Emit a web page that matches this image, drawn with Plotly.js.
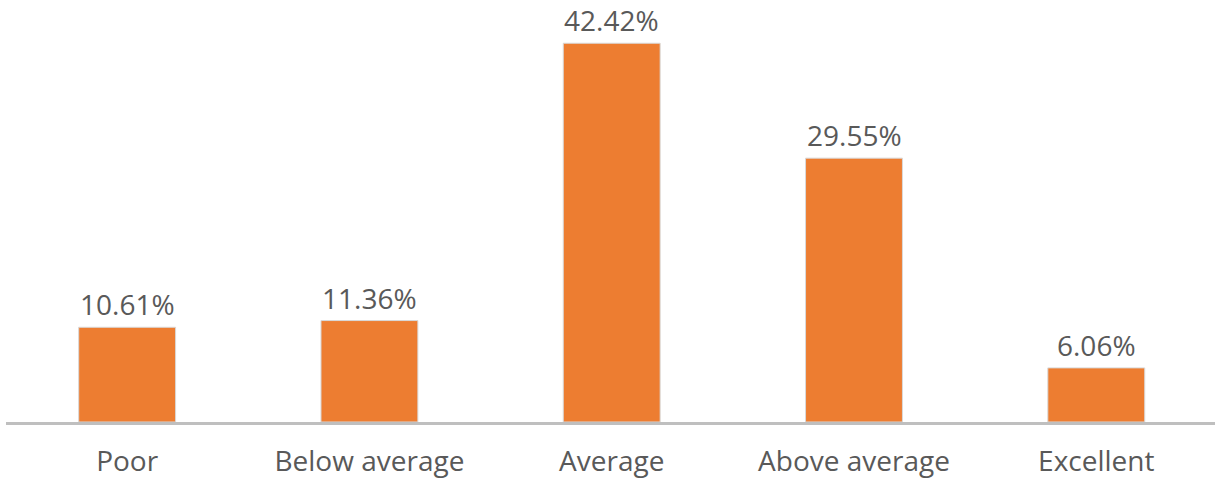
<!DOCTYPE html>
<html>
<head>
<meta charset="utf-8">
<script src="https://cdn.plot.ly/plotly-3.0.1.min.js"></script>
<style>html,body{margin:0;padding:0;background:#fff;}#chart{width:1215px;height:481px;}</style>
</head>
<body>
<div id="chart"></div>
<script>
const categories = ["Poor", "Below average", "Average", "Above average", "Excellent"];
const values = [10.61, 11.36, 42.42, 29.55, 6.06];
const valueLabels = ["10.61%", "11.36%", "42.42%", "29.55%", "6.06%"];

const FONT = "'Open Sans', 'Liberation Sans', sans-serif";
const TEXT_COLOR = "#595959";

const trace = {
  type: "bar",
  x: categories,
  y: values,
  width: 0.4,
  marker: {color: "#ED7D31", line: {color: "#d9d9d9", width: 1}},
  hoverinfo: "none"
};

const annotations = categories.map((c, i) => ({
  x: c, y: values[i], xref: "x", yref: "y",
  text: valueLabels[i], showarrow: false,
  yanchor: "bottom", yshift: 3, borderpad: 0,
  font: {family: FONT, size: 28, color: TEXT_COLOR}
}));

const layout = {
  width: 1215, height: 481,
  margin: {l: 6, r: 0, t: 0, b: 59},
  paper_bgcolor: "#fff", plot_bgcolor: "#fff",
  showlegend: false,
  xaxis: {
    type: "category",
    range: [-0.5, 4.49],
    showline: true, linecolor: "#bfbfbf", linewidth: 3,
    showgrid: false, zeroline: false, ticks: "",
    ticklabelstandoff: 12,
    tickfont: {family: FONT, size: 28, color: TEXT_COLOR}
  },
  yaxis: {
    range: [0, 47.26],
    showgrid: false, zeroline: false, showline: false,
    showticklabels: false, ticks: ""
  },
  annotations: annotations
};

Plotly.newPlot("chart", [trace], layout, {displayModeBar: false, staticPlot: true});
</script>
</body>
</html>
